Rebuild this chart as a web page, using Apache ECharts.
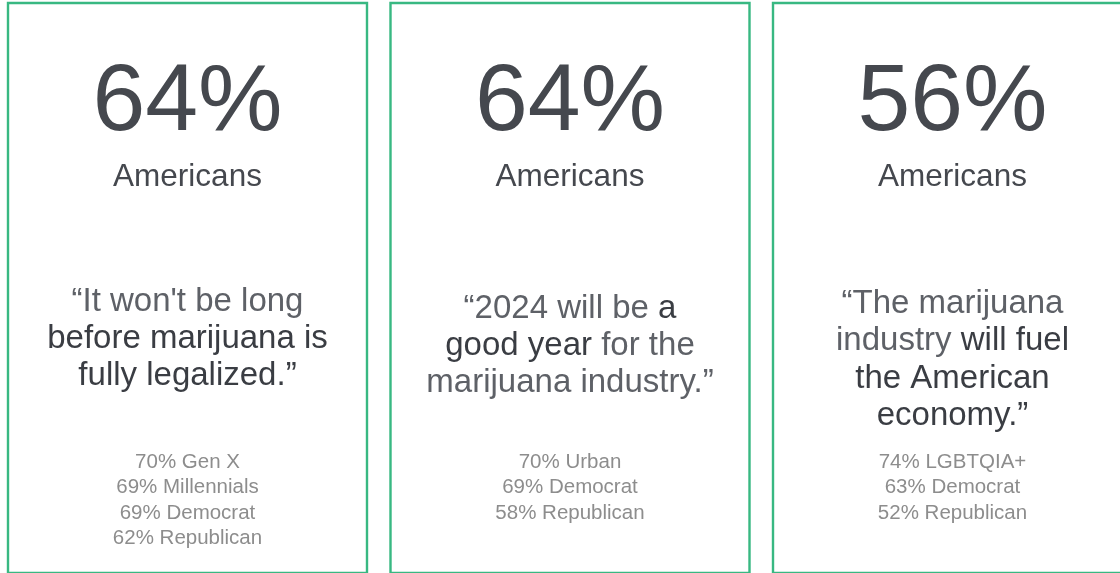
<!DOCTYPE html>
<html>
<head>
<meta charset="utf-8">
<script src="https://cdn.jsdelivr.net/npm/echarts@6/dist/echarts.min.js"></script>
<style>
html,body{margin:0;padding:0;background:#fff;}
#chart{width:1120px;height:573px;}
</style>
</head>
<body>
<div id="chart"></div>
<script>
// ---- data ----
const percents = [64, 64, 56];
const subjects = ['Americans', 'Americans', 'Americans'];
// segments wrapped in *...* are the emphasised (regular weight) words
const quoteLines = [
  ["\u201cIt won't be long", "*before marijuana is*", "*fully legalized.\u201d*"],
  ["\u201c2024 will be *a*", "*good year* for the", "marijuana industry.\u201d"],
  ["\u201cThe marijuana", "industry *will fuel*", "*the American*", "*economy.\u201d*"]
];
const breakdowns = [
  ['70% Gen X', '69% Millennials', '69% Democrat', '62% Republican'],
  ['70% Urban', '69% Democrat', '58% Republican'],
  ['74% LGBTQIA+', '63% Democrat', '52% Republican']
];

// ---- layout / style ----
const FONT = "'Liberation Sans', Arial, Helvetica, sans-serif";
const cardX0 = 8, cardStep = 382.5, cardW = 359, cardY = 3, cardH = 570;
const quoteCenters = [339, 346, 360];
const QLH = 37.3;

function richLine(line) {
  const parts = line.split('*');
  let out = '';
  parts.forEach((p, i) => {
    if (!p) return;
    out += (i % 2 === 1 ? '{b|' : '{l|') + p + '}';
  });
  return out;
}

const graphic = [];
percents.forEach((p, i) => {
  const cx = cardX0 + i * cardStep + cardW / 2;
  graphic.push({
    type: 'rect',
    shape: { x: cardX0 + i * cardStep, y: cardY, width: cardW, height: cardH },
    style: { fill: '#fff', stroke: '#38b882', lineWidth: 2.4 }
  });
  graphic.push({
    type: 'text', x: cx, y: 104,
    style: { text: p + '%', font: '95px ' + FONT, fill: '#45484e', textAlign: 'center', textVerticalAlign: 'middle' }
  });
  graphic.push({
    type: 'text', x: cx, y: 177.5,
    style: { text: subjects[i], font: '31.5px ' + FONT, fill: '#45484e', textAlign: 'center', textVerticalAlign: 'middle' }
  });
  graphic.push({
    type: 'text', x: cx, y: quoteCenters[i],
    style: {
      text: quoteLines[i].map(richLine).join('\n'),
      textAlign: 'center', textVerticalAlign: 'middle',
      rich: {
        l: { fontFamily: FONT, fontSize: 33, lineHeight: QLH, fill: '#5e6167', color: '#5e6167' },
        b: { fontFamily: FONT, fontSize: 33, lineHeight: QLH, fill: '#3a3d43', color: '#3a3d43' }
      }
    }
  });
  graphic.push({
    type: 'text', x: cx, y: 449.5,
    style: {
      text: breakdowns[i].join('\n'),
      font: '20.5px ' + FONT, fill: '#8d8d8d', textAlign: 'center', textVerticalAlign: 'top',
      lineHeight: 25.4
    }
  });
});

const chart = echarts.init(document.getElementById('chart'), null, { renderer: 'canvas' });
chart.setOption({ animation: false, backgroundColor: '#ffffff', graphic: graphic });
</script>
</body>
</html>
